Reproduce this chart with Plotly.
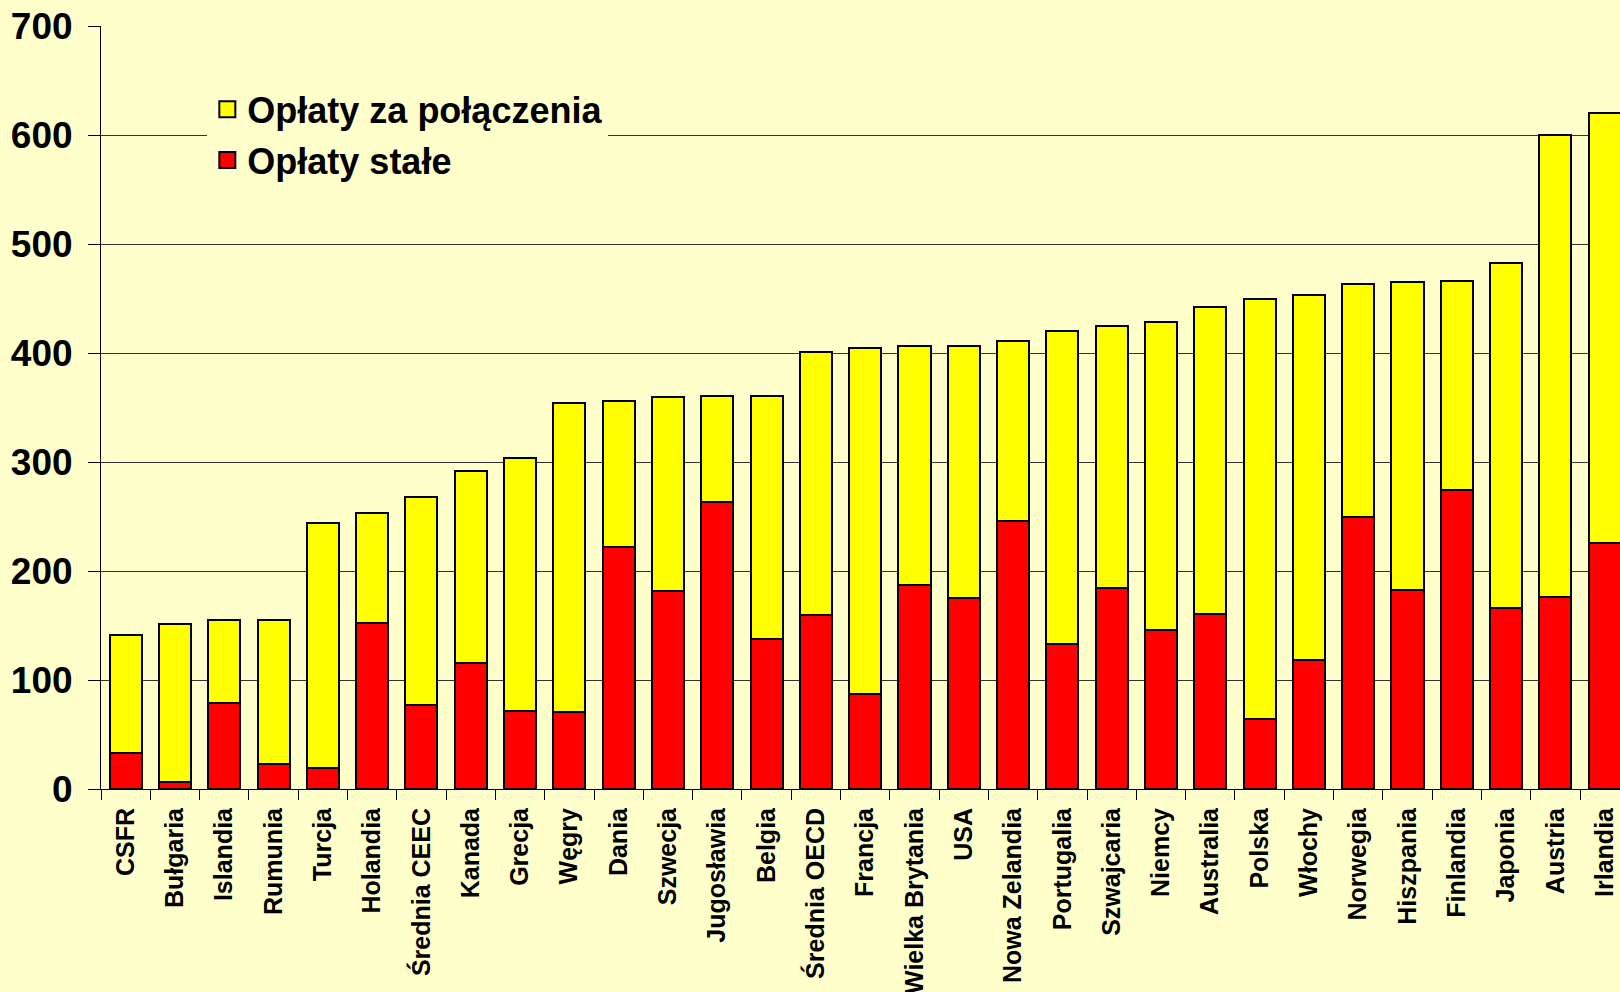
import plotly.graph_objects as go

kraje = ['CSFR', 'Bułgaria', 'Islandia', 'Rumunia', 'Turcja', 'Holandia', 'Średnia CEEC',
         'Kanada', 'Grecja', 'Węgry', 'Dania', 'Szwecja', 'Jugosławia', 'Belgia',
         'Średnia OECD', 'Francja', 'Wielka Brytania', 'USA', 'Nowa Zelandia', 'Portugalia',
         'Szwajcaria', 'Niemcy', 'Australia', 'Polska', 'Włochy', 'Norwegia', 'Hiszpania',
         'Finlandia', 'Japonia', 'Austria', 'Irlandia']

# oplaty stale (czerwone)
stale = [33, 6, 79, 23, 19, 152, 77, 116, 72, 71, 222, 182, 263, 138, 160, 87, 187, 175,
         246, 133, 184, 146, 161, 64, 118, 250, 183, 274, 166, 176, 226]

# suma (wysokosc calego slupka)
razem = [141, 151, 155, 155, 244, 253, 268, 292, 304, 354, 356, 360, 361, 361, 401, 405,
         406, 406, 411, 420, 425, 428, 442, 450, 453, 463, 465, 466, 483, 600, 620]

polaczenia = [r - s for r, s in zip(razem, stale)]

tlo = '#FFFFCC'
font = 'Arial, Liberation Sans, sans-serif'
obrys = dict(color='black', width=2)

fig = go.Figure()
fig.add_trace(go.Bar(x=kraje, y=stale, name='Opłaty stałe', showlegend=False,
                     marker=dict(color='#FF0000', line=obrys)))
fig.add_trace(go.Bar(x=kraje, y=polaczenia, name='Opłaty za połączenia', showlegend=False,
                     marker=dict(color='#FFFF00', line=obrys)))

# legenda z wiekszymi kwadratami
for grp, nazwa, kolor in [('a', 'Opłaty za połączenia', '#FFFF00'), ('b', 'Opłaty stałe', '#FF0000')]:
    fig.add_trace(go.Scatter(x=[None], y=[None], mode='markers', name=nazwa, legendgroup=grp,
                             marker=dict(symbol='square', size=20, color=kolor, line=obrys)))

fig.update_layout(
    width=1620, height=992,
    barmode='stack', bargap=0.35,
    paper_bgcolor=tlo, plot_bgcolor=tlo,
    margin=dict(l=101, r=0, t=26, b=203),
    font=dict(family=font, color='black'),
    legend=dict(x=0.07, y=0.93, xanchor='left', yanchor='top',
                bgcolor=tlo, itemsizing='trace', itemwidth=30,
                traceorder='grouped', tracegroupgap=1,
                font=dict(size=36, family=font, weight='bold'),
                borderwidth=0),
)
fig.update_xaxes(range=[-0.5, 30.31], tickangle=-90, tickson='boundaries',
                 ticks='outside', ticklen=10, tickcolor='black',
                 showline=True, linecolor='black', linewidth=1,
                 tickfont=dict(size=25, family=font, weight='bold'),
                 automargin=False, ticklabelstandoff=8)
fig.update_yaxes(range=[0, 700], dtick=100, ticks='outside', ticklen=12,
                 tickcolor='black', showline=True, linecolor='black', linewidth=1,
                 showgrid=True, gridcolor='#333333', gridwidth=1, zeroline=False,
                 tickfont=dict(size=37, family=font, weight='bold'),
                 automargin=False, ticklabelstandoff=8)

fig.write_html('out.html', config={'displayModeBar': False},
               post_script="document.body.style.margin='0';")
